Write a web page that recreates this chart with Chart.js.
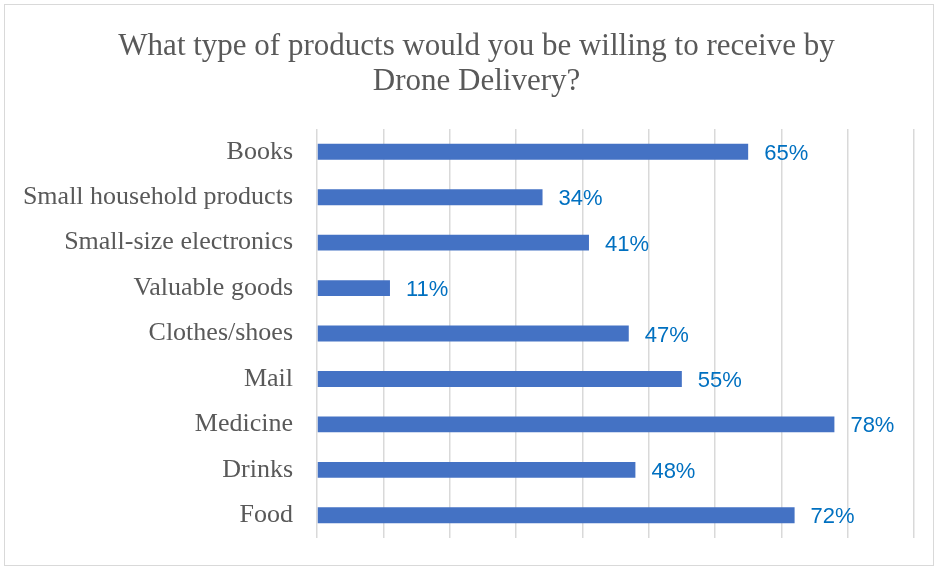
<!DOCTYPE html>
<html>
<head>
<meta charset="utf-8">
<script src="https://cdn.jsdelivr.net/npm/chart.js@4.4.1/dist/chart.umd.min.js"></script>
<style>
  html, body { margin: 0; padding: 0; background: #fff; overflow: hidden; }
  #wrap { width: 934px; height: 566px; position: relative; overflow: hidden; }
</style>
</head>
<body>
<div id="wrap"><canvas id="droneChart" width="953" height="566"></canvas></div>
<script>
// Datos del gráfico
const categorias = [
    'Books', 'Small household products', 'Small-size electronics', 'Valuable goods',
    'Clothes/shoes', 'Mail', 'Medicine', 'Drinks', 'Food'
];
const porcentajes = [65, 34, 41, 11, 47, 55, 78, 48, 72];
const tituloLineas = ['What type of products would you be willing to receive by', 'Drone Delivery?'];

// Borde exterior del gráfico
const bordePlugin = {
    id: 'borde',
    beforeDraw(chart) {
        const ctx = chart.ctx;
        ctx.save();
        ctx.fillStyle = '#fff';
        ctx.fillRect(0, 0, chart.width, chart.height);
        ctx.strokeStyle = '#d9d9d9';
        ctx.lineWidth = 1;
        ctx.strokeRect(4.5, 4.5, 929, 561);
        ctx.restore();
    }
};

// Etiquetas de valor al final de cada barra
const etiquetasPlugin = {
    id: 'etiquetas',
    afterDatasetsDraw(chart) {
        const ctx = chart.ctx;
        const meta = chart.getDatasetMeta(0);
        ctx.save();
        ctx.font = '22px "Liberation Sans", Arial, sans-serif';
        ctx.fillStyle = '#0070c0';
        ctx.textAlign = 'left';
        ctx.textBaseline = 'middle';
        meta.data.forEach((bar, i) => {
            ctx.fillText(porcentajes[i] + '%', bar.x + 16, bar.y + 2);
        });
        ctx.restore();
    }
};

new Chart(document.getElementById('droneChart'), {
    type: 'bar',
    data: {
        labels: categorias,
        datasets: [{
            data: porcentajes,
            backgroundColor: '#4472c4',
            borderWidth: 0,
            categoryPercentage: 0.7,
            barPercentage: 0.5
        }]
    },
    options: {
        indexAxis: 'y',
        responsive: false,
        animation: false,
        layout: { padding: { left: 0, right: 0, top: 0, bottom: 28 } },
        plugins: {
            legend: { display: false },
            tooltip: { enabled: false },
            title: {
                display: true,
                text: tituloLineas,
                color: '#595959',
                font: { family: '"Liberation Serif", "Times New Roman", serif', size: 31, weight: 'normal', lineHeight: 1.13 },
                padding: { top: 29, bottom: 30 }
            }
        },
        scales: {
            x: {
                min: 0,
                max: 90,
                ticks: { display: false, stepSize: 10 },
                grid: { color: '#d9d9d9', lineWidth: 1.5, drawTicks: false },
                border: { display: false }
            },
            y: {
                ticks: {
                    color: '#595959',
                    padding: 24,
                    font: { family: '"Liberation Serif", "Times New Roman", serif', size: 26 }
                },
                grid: { display: false, drawTicks: false },
                border: { display: false },
                afterFit(scale) {
                    scale.width = 317;
                    scale.paddingTop = 0;
                    scale.paddingBottom = 0;
                }
            },
            // Eje vacío a la derecha para dejar margen
            margenDerecho: {
                type: 'linear',
                position: 'right',
                ticks: { display: false },
                grid: { display: false, drawTicks: false },
                border: { display: false },
                afterFit(scale) { scale.width = 39; }
            }
        }
    },
    plugins: [bordePlugin, etiquetasPlugin]
});
</script>
</body>
</html>
